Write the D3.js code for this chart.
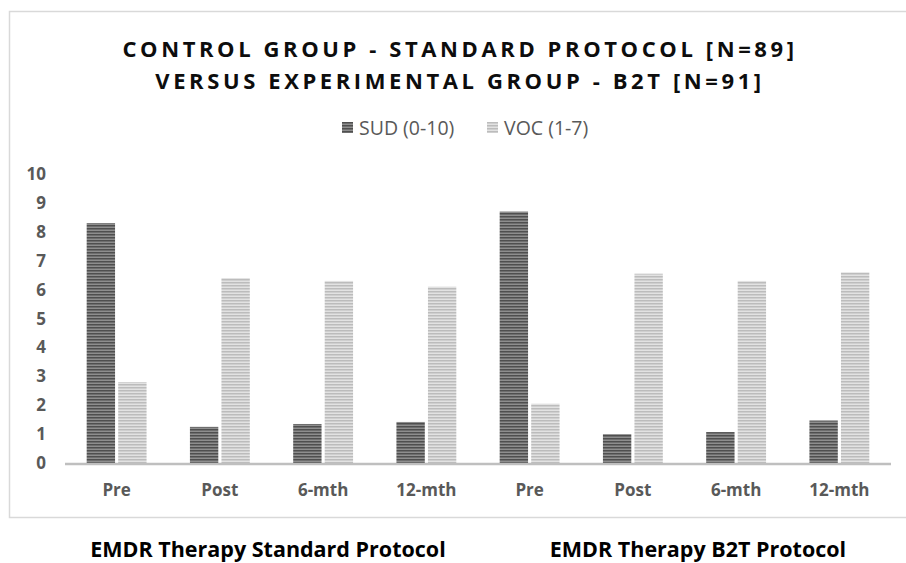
<!DOCTYPE html>
<html>
<head>
<meta charset="utf-8">
<script src="https://cdn.jsdelivr.net/npm/d3@7"></script>
<style>
body{margin:0;background:#fff;}
text{font-family:"Open Sans",sans-serif;}
</style>
</head>
<body>
<div id="root"></div>
<script>
// chart values
var categories=['Pre','Post','6-mth','12-mth','Pre ','Post ','6-mth ','12-mth '];
var sud=[8.3,1.25,1.35,1.42,8.7,1.0,1.07,1.47];
var voc=[2.8,6.4,6.3,6.1,2.05,6.55,6.3,6.6];
var seriesNames=['SUD (0-10)','VOC (1-7)'];
var yTicks=[0,1,2,3,4,5,6,7,8,9,10];
var titleLines=['CONTROL GROUP - STANDARD PROTOCOL [N=89]','VERSUS EXPERIMENTAL GROUP - B2T [N=91]'];
var groupLabels=['EMDR Therapy Standard Protocol','EMDR Therapy B2T Protocol'];

var W=906,H=563;
var b={t:174,r:15,b:100,l:65};

var svg=d3.select('#root').append('svg').attr('width',W).attr('height',H);

// stripe patterns
var defs=svg.append('defs');
function stripes(id,c1,c2){
  var p=defs.append('pattern').attr('id',id).attr('patternUnits','userSpaceOnUse')
    .attr('width',4).attr('height',3);
  p.append('rect').attr('width',4).attr('height',3).attr('fill',c1);
  p.append('rect').attr('y',0).attr('width',4).attr('height',1.5).attr('fill',c2);
}
stripes('pSud','#8e8e8e','#4f4f4f');
stripes('pVoc','#e2e2e2','#bcbcbc');
var fills=['url(#pSud)','url(#pVoc)'];

// frame
svg.append('rect').attr('x',9.5).attr('y',11.5).attr('width',W).attr('height',506)
  .attr('fill','none').attr('stroke','#d9d9d9').attr('stroke-width',1.5);

// title
svg.selectAll('.title').data(titleLines).enter().append('text')
  .attr('x',460).attr('y',function(d,i){return 57+i*32})
  .attr('text-anchor','middle').attr('font-size',22).attr('font-weight','bold')
  .attr('letter-spacing',3.6).attr('fill','#0d0d0d').text(function(d){return d});

// legend
var legend=svg.selectAll('.leg').data(seriesNames).enter().append('g')
  .attr('transform',function(d,i){return 'translate('+(342+i*145)+',122)'});
legend.append('rect').attr('width',11).attr('height',11).attr('fill',function(d,i){return fills[i]});
legend.append('text').attr('x',17).attr('y',13).attr('font-size',19.5).attr('fill','#595959')
  .text(function(d){return d});

var w=W-b.l-b.r, h=H-b.t-b.b;
var g=svg.append('g').attr('transform','translate('+b.l+','+b.t+')');

var x=d3.scaleBand().domain(categories).range([0,826]).paddingInner(0.42).paddingOuter(0.21);
var xs=d3.scaleBand().domain([0,1]).range([0,x.bandwidth()]).paddingInner(0.1);
var y=d3.scaleLinear().domain([0,10]).range([289,0]);

// y labels
g.selectAll('.ytick').data(yTicks).enter().append('text')
  .attr('x',-19).attr('y',function(d){return y(d)+6})
  .attr('text-anchor','end').attr('font-size',17).attr('font-weight','bold').attr('fill','#595959')
  .text(function(d){return d});

// bars
var rows=categories.map(function(c,i){return {cat:c,vals:[sud[i],voc[i]]}});
var grp=g.selectAll('.grp').data(rows).enter().append('g')
  .attr('transform',function(d){return 'translate('+x(d.cat)+',0)'});
grp.selectAll('rect').data(function(d){return d.vals}).enter().append('rect')
  .attr('x',function(d,i){return xs(i)}).attr('width',xs.bandwidth())
  .attr('y',function(d){return y(d)}).attr('height',function(d){return y(0)-y(d)})
  .attr('fill',function(d,i){return fills[i]});

// baseline
g.append('line').attr('x1',0).attr('x2',826).attr('y1',y(0)+1).attr('y2',y(0)+1)
  .attr('stroke','#bfbfbf').attr('stroke-width',2.5);

// x labels
g.selectAll('.xl').data(categories).enter().append('text')
  .attr('x',function(d){return x(d)+x.bandwidth()/2}).attr('y',y(0)+33)
  .attr('text-anchor','middle').attr('font-size',17).attr('font-weight','bold').attr('fill','#595959')
  .text(function(d){return d.trim()});

// group labels
svg.selectAll('.gl').data(groupLabels).enter().append('text')
  .attr('x',function(d,i){return [268,698][i]}).attr('y',557)
  .attr('text-anchor','middle').attr('font-size',21.5).attr('font-weight','bold').attr('fill','#000')
  .text(function(d){return d});
</script>
</body>
</html>
